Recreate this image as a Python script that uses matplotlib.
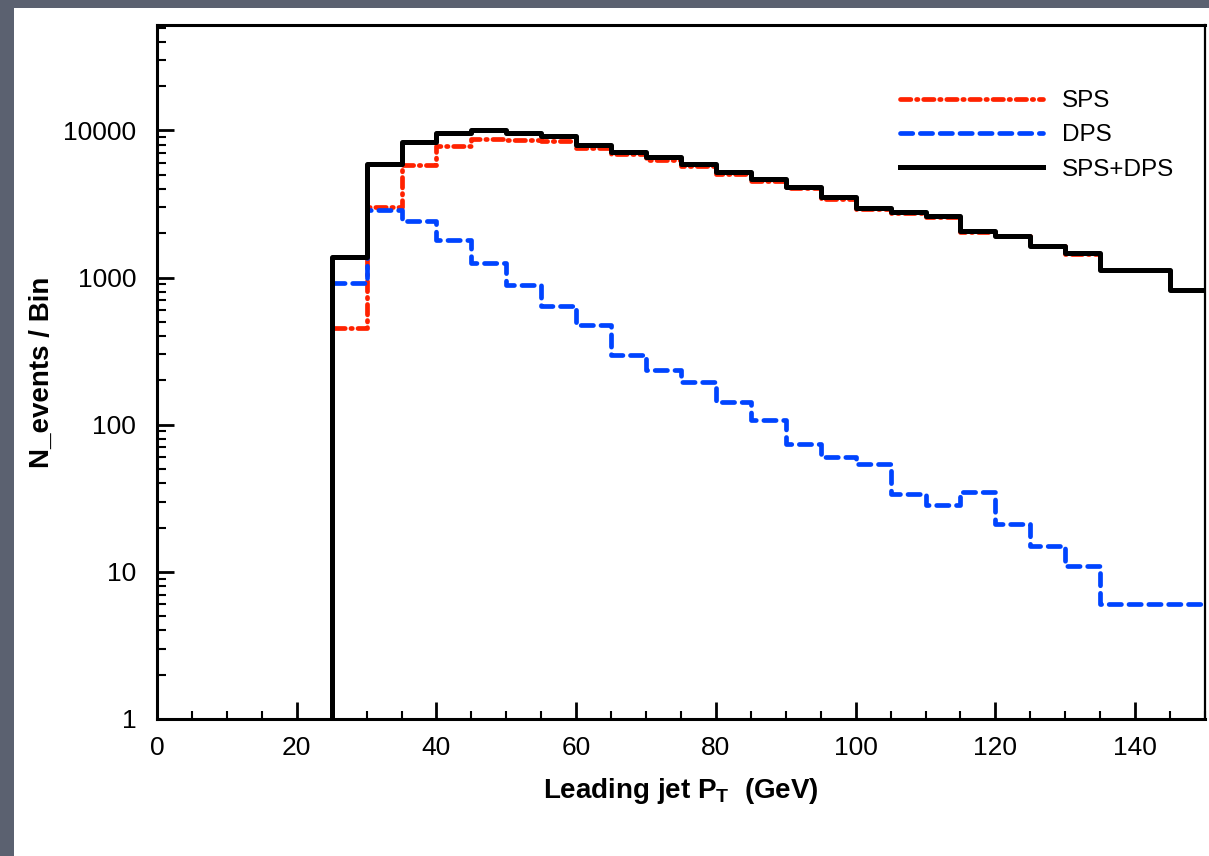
import numpy as np
import matplotlib
matplotlib.use("Agg")
import matplotlib.pyplot as plt
from matplotlib.patches import Rectangle

plt.rcParams['font.family'] = ['Liberation Sans', 'DejaVu Sans']
plt.rcParams['mathtext.fontset'] = 'custom'
plt.rcParams['mathtext.bf'] = 'Liberation Sans:bold'
plt.rcParams['mathtext.rm'] = 'Liberation Sans'

# bin edges of the leading jet pT histogram (GeV)
edges = np.arange(25, 151, 5)

# events per bin
sps = [452, 3010, 5780, 7780, 8770, 8640, 8460, 7580, 6870, 6250,
       5740, 5040, 4530, 4030, 3440, 2940, 2740, 2570, 2025, 1910,
       1635, 1450, 1124, 1124, 823]
dps = [915, 2860, 2440, 1800, 1260, 883, 645, 479, 299, 236,
       194, 142, 108, 74, 60, 54, 34, 28.5, 35, 21,
       15, 11, 6, 6, 6]
total = [1370, 5900, 8280, 9600, 10050, 9530, 9150, 7960, 7150, 6570,
         5950, 5180, 4640, 4100, 3500, 2990, 2770, 2600, 2060, 1930,
         1650, 1460, 1130, 1130, 829]

xticks = [0, 20, 40, 60, 80, 100, 120, 140]
yticks = [1, 10, 100, 1000, 10000]
ymin, ymax = 1, 5.2e4

fig = plt.figure(figsize=(12.09, 8.56), dpi=100)
fig.patch.set_facecolor('#5b6170')
# white slide area behind the plot
fig.add_artist(Rectangle((14 / 1209, 0), 1, 1 - 8 / 856, transform=fig.transFigure,
                         facecolor='white', edgecolor='none', zorder=-10))

ax = fig.add_axes([157 / 1209, 1 - 719 / 856, 1048 / 1209, 694 / 856])
ax.set_zorder(1)
ax.set_yscale('log')


def hist_line(vals, **kw):
    x = np.r_[edges[0], edges]
    y = np.r_[ymin, vals, vals[-1]]
    return ax.step(x, y, where='post', **kw)


hist_line(sps, color='#ff2200', lw=3.4, dashes=(2.2, 1.2, 0.3, 1.2), dash_capstyle='round', label='SPS')
hist_line(dps, color='#0044ff', lw=3.4, dashes=(2.6, 1.6), dash_capstyle='round', label='DPS')
hist_line(total, color='black', lw=3.6, label='SPS+DPS')

ax.set_xlim(0, 150)
ax.set_ylim(ymin, ymax)
ax.set_xticks(xticks)
ax.set_xticks(np.arange(0, 151, 5), minor=True)
ax.set_yticks(yticks)
ax.set_yticklabels([str(v) for v in yticks])
ax.yaxis.set_minor_locator(matplotlib.ticker.LogLocator(base=10, subs=np.arange(2, 10), numticks=20))
ax.yaxis.set_minor_formatter(matplotlib.ticker.NullFormatter())

ax.tick_params(axis='x', which='major', direction='in', length=12, width=2, labelsize=19, pad=12)
ax.tick_params(axis='x', which='minor', direction='in', length=6, width=1.5)
ax.tick_params(axis='y', which='major', direction='in', length=12, width=2, labelsize=19, pad=15)
ax.tick_params(axis='y', which='minor', direction='in', length=6.5, width=1.5)
for s in ax.spines.values():
    s.set_linewidth(2.2)
ax.spines['right'].set_linewidth(1.6)

ax.set_xlabel(r'Leading jet P$_{\mathbf{T}}$  (GeV)', fontsize=20, fontweight='bold', labelpad=12)
ax.set_ylabel('N_events / Bin', fontsize=20, fontweight='bold', labelpad=6)

ax.legend(loc='upper left', bbox_to_anchor=(0.709, 0.906), frameon=False, fontsize=17.5,
          handlelength=5.9, handletextpad=0.75, labelspacing=0.5, borderpad=0, borderaxespad=0)

fig.savefig('out.png', dpi=100, facecolor=fig.get_facecolor())
